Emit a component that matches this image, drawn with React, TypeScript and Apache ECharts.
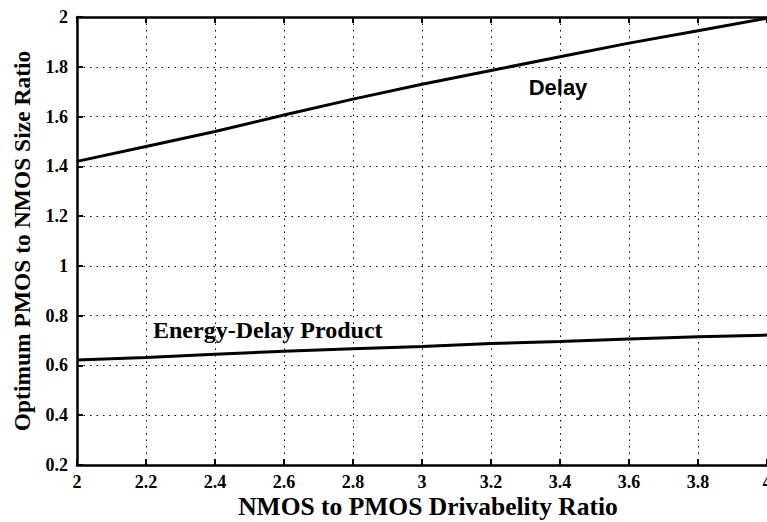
import React, { useEffect, useRef } from "react";
import * as echarts from "echarts";

const xValues = [2, 2.2, 2.4, 2.6, 2.8, 3.0, 3.2, 3.4, 3.6, 3.8, 4];
const delayValues = [1.42, 1.48, 1.54, 1.606, 1.67, 1.73, 1.785, 1.84, 1.895, 1.945, 1.995];
const edpValues = [0.622, 0.632, 0.645, 0.657, 0.667, 0.676, 0.688, 0.696, 0.706, 0.715, 0.722];
const xTitle = "NMOS to PMOS Drivabelity Ratio";
const yTitle = "Optimum PMOS to NMOS Size Ratio";
const delayLabel = "Delay";
const edpLabel = "Energy-Delay Product";

const serif = "'Liberation Serif', 'Times New Roman', serif";
const sans = "'Liberation Sans', Arial, sans-serif";

export default function App() {
  const ref = useRef<HTMLDivElement>(null);
  useEffect(() => {
    if (!ref.current) return;
    const chart = echarts.init(ref.current, null, { renderer: "svg" });
    const fmt = (v: number) => {
      const r = Math.round(v * 10) / 10;
      return Number.isInteger(r) ? String(r) : r.toFixed(1);
    };
    const gridLine = { show: true, lineStyle: { color: "#000", width: 1, type: [1.5, 5] as any } };
    chart.setOption({
      animation: false,
      backgroundColor: "#fff",
      grid: { left: 77, top: 17, width: 690, height: 448, containLabel: false },
      xAxis: [
        {
          type: "value",
          min: 2,
          max: 4,
          interval: 0.2,
          position: "bottom",
          axisLine: { show: true, onZero: false, lineStyle: { color: "#000", width: 2.5 } },
          axisTick: { show: true, inside: true, length: 6, lineStyle: { color: "#000", width: 2 } },
          axisLabel: {
            color: "#000",
            fontFamily: serif,
            fontWeight: "bold",
            fontSize: 18,
            margin: 8,
            lineHeight: 18,
            formatter: fmt,
          },
          splitLine: gridLine,
        },
        {
          type: "value",
          min: 2,
          max: 4,
          interval: 0.2,
          position: "top",
          axisLine: { show: true, onZero: false, lineStyle: { color: "#000", width: 2.5 } },
          axisTick: { show: true, inside: true, length: 6, lineStyle: { color: "#000", width: 2 } },
          axisLabel: { show: false },
          splitLine: { show: false },
        },
      ],
      yAxis: [
        {
          type: "value",
          min: 0.2,
          max: 2,
          interval: 0.2,
          axisLine: { show: true, onZero: false, lineStyle: { color: "#000", width: 2.5 } },
          axisTick: { show: true, inside: true, length: 6, lineStyle: { color: "#000", width: 2 } },
          axisLabel: {
            color: "#000",
            fontFamily: serif,
            fontWeight: "bold",
            fontSize: 18,
            margin: 9,
            formatter: fmt,
          },
          splitLine: gridLine,
        },
      ],
      series: [
        {
          type: "line",
          data: xValues.map((x, i) => [x, delayValues[i]]),
          showSymbol: false,
          lineStyle: { color: "#000", width: 3 },
          clip: false,
        },
        {
          type: "line",
          data: xValues.map((x, i) => [x, edpValues[i]]),
          showSymbol: false,
          lineStyle: { color: "#000", width: 3 },
          clip: false,
        },
      ],
      graphic: [
        {
          type: "text",
          x: 428,
          y: 506,
          style: {
            text: xTitle,
            fill: "#000",
            font: `bold 25.5px ${serif}`,
            textAlign: "center",
            textVerticalAlign: "middle",
          },
        },
        {
          type: "text",
          x: 22,
          y: 241,
          rotation: Math.PI / 2,
          style: {
            text: yTitle,
            fill: "#000",
            font: `bold 23.5px ${serif}`,
            textAlign: "center",
            textVerticalAlign: "middle",
          },
        },
        {
          type: "text",
          x: 558,
          y: 87,
          style: {
            text: delayLabel,
            fill: "#000",
            font: `bold 22px ${sans}`,
            textAlign: "center",
            textVerticalAlign: "middle",
          },
        },
        {
          type: "text",
          x: 153,
          y: 330,
          style: {
            text: edpLabel,
            fill: "#000",
            font: `bold 24px ${serif}`,
            textAlign: "left",
            textVerticalAlign: "middle",
          },
        },
      ],
    });
    return () => chart.dispose();
  }, []);
  return (
    <div
      style={{
        position: "fixed",
        left: 0,
        top: 0,
        width: 767,
        height: 522,
        overflow: "hidden",
        background: "#fff",
      }}
    >
      <div ref={ref} style={{ width: 800, height: 522 }} />
    </div>
  );
}
